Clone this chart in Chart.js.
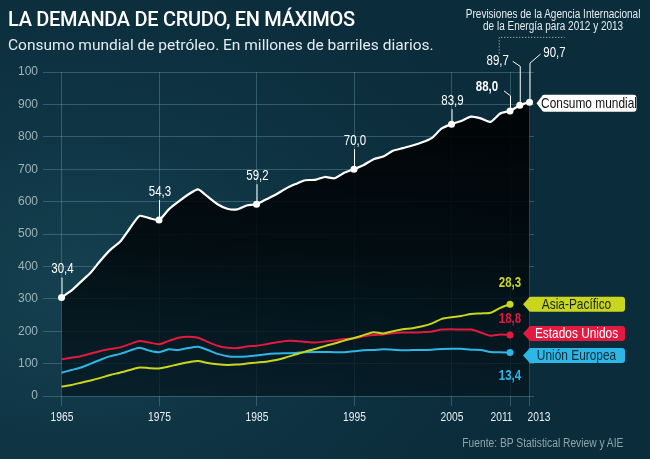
<!DOCTYPE html>
<html>
<head>
<meta charset="utf-8">
<script src="https://cdn.jsdelivr.net/npm/chart.js@4/dist/chart.umd.min.js"></script>
<style>
  html, body { margin:0; padding:0; }
  body { width:650px; height:459px; overflow:hidden; position:relative;
    background: radial-gradient(ellipse 70% 75% at 12% 62%, #15404f 0%, #0e3343 55%, #0b2c3a 100%); }
  #c { position:absolute; left:0; top:0; }
  .t { position:absolute; white-space:nowrap; }
  .n { display:inline-block; transform:scaleX(0.8); }
  #title { left:8px; top:7px; font-family: Roboto, "Open Sans", sans-serif; font-weight:500; font-size:20px; color:#ffffff; letter-spacing:-0.3px; }
  #sub { left:8px; top:36px; font-family: Roboto, "Open Sans", sans-serif; font-size:15.5px; color:#e4ecef; }
  #prev { left:443px; top:8px; width:220px; text-align:center; font-family:"Liberation Sans", Arial, sans-serif; font-size:12.5px; line-height:12px; color:#e6eef1; }
  #prev .n { transform-origin:50% 50%; }
  #src { left:423px; top:436px; width:200px; text-align:right; font-family:"Liberation Sans", Arial, sans-serif; font-size:12.5px; color:#8ea5ad; }
  #src .n { transform-origin:100% 50%; transform:scaleX(0.82); }
</style>
</head>
<body>
<canvas id="c" width="650" height="459"></canvas>
<div class="t" id="title">LA DEMANDA DE CRUDO, EN MÁXIMOS</div>
<div class="t" id="sub">Consumo mundial de petróleo. En millones de barriles diarios.</div>
<div class="t" id="prev"><span class="n">Previsiones de la Agencia Internacional<br>de la Energía para 2012 y 2013</span></div>
<div class="t" id="src"><span class="n">Fuente: BP Statistical Review y AIE</span></div>
<script>
// ---- DATA ----
const years = [1965,1966,1967,1968,1969,1970,1971,1972,1973,1974,1975,1976,1977,1978,1979,
  1980,1981,1982,1983,1984,1985,1986,1987,1988,1989,1990,1991,1992,1993,1994,1995,1996,1997,
  1998,1999,2000,2001,2002,2003,2004,2005,2006,2007,2008,2009,2010,2011,2012,2013];
const worldConsumption = [30.4,32.5,35.3,38.1,41.8,45.1,47.6,51.7,55.6,54.9,54.3,57.6,60.0,62.2,63.8,
  61.5,59.2,57.8,57.6,58.8,59.2,60.7,62.2,64.0,65.4,66.6,66.7,67.6,67.2,68.9,70.0,71.3,73.1,
  73.9,75.7,76.5,77.3,78.3,79.7,82.6,83.9,84.9,86.2,85.7,84.6,87.2,88.0,89.7,90.7];
const asiaPacific = [2.9,3.4,4.1,4.8,5.6,6.5,7.2,8.0,8.8,8.6,8.5,9.1,9.8,10.4,10.8,
  10.2,9.8,9.6,9.7,10.0,10.3,10.6,11.1,11.9,12.8,13.7,14.5,15.4,16.2,17.1,17.9,18.8,19.7,
  19.3,20.0,20.6,20.9,21.5,22.4,23.8,24.3,24.7,25.3,25.5,25.7,27.2,28.3];
const unitedStates = [11.3,11.8,12.3,13.1,13.9,14.5,15.0,16.0,17.0,16.5,16.0,17.0,18.0,18.3,18.0,
  16.7,15.5,14.9,14.8,15.3,15.5,16.0,16.5,17.0,17.0,16.7,16.5,16.8,17.1,17.6,17.8,18.4,18.8,
  19.0,19.4,19.6,19.6,19.7,19.9,20.5,20.6,20.5,20.5,19.6,18.6,19.0,18.8];
const europeanUnion = [7.2,8.0,8.8,10.0,11.2,12.3,13.0,14.0,14.9,14.0,13.5,14.4,14.2,14.8,15.2,
  14.2,13.0,12.3,12.1,12.2,12.5,12.9,13.1,13.2,13.3,13.5,13.6,13.6,13.5,13.5,13.8,14.1,14.2,
  14.4,14.3,14.1,14.2,14.2,14.3,14.5,14.6,14.6,14.3,14.2,13.6,13.5,13.4];
const xTickYears = [1965,1975,1985,1995,2005,2011,2013];
const yTickLabels = ['0','100','200','300','400','500','600','700','800','900','100'];
const worldMarkedYears = [1965,1975,1985,1995,2005,2011,2012,2013];
const seriesNames = ['Consumo mundial','Asia-Pacífico','Estados Unidos','Unión Europea'];

// ---- STYLE ----
const COL = { world:'#ffffff', asia:'#c9d61d', us:'#e3193f', eu:'#2cb7e6', grid:'rgba(110,160,176,0.38)' };
const SANS = '"Liberation Sans", Arial, sans-serif';
const SX = 0.82;
const xLabelShift = { 2011: -9, 2013: 9 };
const fmt = v => v.toFixed(1).replace('.', ',');

function toXY(vals){ return vals.map((v,i)=>({x:years[i], y:v})); }

function ntext(c, text, x, y, font, color){
  c.save();
  c.font = font; c.fillStyle = color; c.textAlign = 'center'; c.textBaseline = 'middle';
  c.translate(x, y); c.scale(SX, 1); c.fillText(text, 0, 0);
  c.restore();
}

const annot = {
  id:'annot',
  afterDatasetsDraw(chart){
    const c = chart.ctx, xs = chart.scales.x, ys = chart.scales.y;
    const P = (yr, v) => [xs.getPixelForValue(yr), ys.getPixelForValue(v)];
    c.save();
    // x tick labels (condensed)
    xTickYears.forEach(yr => {
      ntext(c, String(yr), xs.getPixelForValue(yr) + 0.5 + (xLabelShift[yr] || 0), chart.chartArea.bottom + 21.5, '12.5px ' + SANS, '#e8eff1');
    });
    // World value labels with leaders
    c.strokeStyle = '#ffffff'; c.lineWidth = 1;
    worldMarkedYears.forEach(yr => {
      const i = years.indexOf(yr); const v = worldConsumption[i];
      const [px, py] = P(yr, v);
      c.beginPath();
      if (yr <= 2005) {
        const off = yr === 2005 ? 23 : 28;
        c.moveTo(px+0.5, py - off + 8); c.lineTo(px+0.5, py - 3); c.stroke();
        ntext(c, fmt(v), px + 1, py - off, '14px ' + SANS, '#ffffff');
      } else if (yr === 2011) {
        c.moveTo(px-6, py-20); c.lineTo(px+0.5, py-15); c.lineTo(px+0.5, py-3); c.stroke();
        ntext(c, fmt(v), px - 23, py - 24, 'bold 14px ' + SANS, '#ffffff');
      } else if (yr === 2012) {
        c.moveTo(px-7, py-44); c.lineTo(px+0.5, py-39); c.lineTo(px+0.5, py-3); c.stroke();
        ntext(c, fmt(v), px - 22, py - 44, '14px ' + SANS, '#ffffff');
        // dotted bracket to forecast note
        c.save(); c.setLineDash([1,2]); c.strokeStyle = 'rgba(255,255,255,0.8)';
        c.beginPath(); c.moveTo(px-20.5, py-52); c.lineTo(px-20.5, py-68); c.lineTo(px+45, py-68); c.stroke();
        c.restore();
      } else {
        c.moveTo(px+11, py-48); c.lineTo(px+0.5, py-39); c.lineTo(px+0.5, py-3); c.stroke();
        ntext(c, fmt(v), px + 25, py - 49, '14px ' + SANS, '#ffffff');
      }
    });
    // Boxes
    function box(tipX, cy, w, h, fill, text, tcol){
      c.fillStyle = fill;
      const l = tipX + 5, r = l + w, t = cy - h/2, b = cy + h/2, rr = 3;
      c.beginPath();
      c.moveTo(tipX, cy); c.lineTo(l, t+2);
      c.lineTo(l, t+rr); c.quadraticCurveTo(l, t, l+rr, t);
      c.lineTo(r-rr, t); c.quadraticCurveTo(r, t, r, t+rr);
      c.lineTo(r, b-rr); c.quadraticCurveTo(r, b, r-rr, b);
      c.lineTo(l+rr, b); c.quadraticCurveTo(l, b, l, b-rr);
      c.lineTo(l, b-2); c.closePath(); c.fill();
      ntext(c, text, (l + r)/2, cy + 0.5, '14.5px ' + SANS, tcol);
    }
    const last = worldConsumption.length - 1;
    const [wx, wy] = P(years[last], worldConsumption[last]);
    box(wx + 7, wy + 1, 95, 17, '#ffffff', seriesNames[0], '#111111');
    const ri = asiaPacific.length - 1, ry = years[ri];
    const regions = [
      [asiaPacific, COL.asia, seriesNames[1], '#15252b', -21],
      [unitedStates, COL.us, seriesNames[2], '#ffffff', -16],
      [europeanUnion, COL.eu, seriesNames[3], '#0d2a38', 24]
    ];
    regions.forEach(([arr, col, name, tcol, loff], k) => {
      const [px, py] = P(ry, arr[ri]);
      const cy = k === 1 ? py - 1.5 : (k === 2 ? py + 3 : py);
      box(px + 13, cy, 97, 15, col, name, tcol);
      ntext(c, fmt(arr[ri]), px, py + loff, 'bold 14px ' + SANS, col);
    });
    c.restore();
  }
};

const ctx = document.getElementById('c').getContext('2d');
new Chart(ctx, {
  type: 'line',
  data: {
    datasets: [
      { label: seriesNames[1], data: toXY(asiaPacific), borderColor: COL.asia, borderWidth: 2, tension: 0.25,
        pointRadius: c => c.dataIndex === asiaPacific.length-1 ? 3.5 : 0, pointBackgroundColor: COL.asia, pointBorderWidth:0, order: 1 },
      { label: seriesNames[2], data: toXY(unitedStates), borderColor: COL.us, borderWidth: 2, tension: 0.25,
        pointRadius: c => c.dataIndex === unitedStates.length-1 ? 3.5 : 0, pointBackgroundColor: COL.us, pointBorderWidth:0, order: 2 },
      { label: seriesNames[3], data: toXY(europeanUnion), borderColor: COL.eu, borderWidth: 2, tension: 0.25,
        pointRadius: c => c.dataIndex === europeanUnion.length-1 ? 3.5 : 0, pointBackgroundColor: COL.eu, pointBorderWidth:0, order: 3 },
      { label: seriesNames[0], data: toXY(worldConsumption), borderColor: COL.world, borderWidth: 2.2, tension: 0.2,
        fill: 'origin',
        backgroundColor: (context) => {
          const ca = context.chart.chartArea;
          if (!ca) return 'rgba(0,0,0,0.9)';
          const g = context.chart.ctx.createLinearGradient(0, ca.top, 0, ca.bottom);
          g.addColorStop(0, 'rgba(0,0,0,0.95)');
          g.addColorStop(0.55, 'rgba(1,8,12,0.88)');
          g.addColorStop(1, 'rgba(4,22,30,0.7)');
          return g;
        },
        pointRadius: c => worldMarkedYears.includes(years[c.dataIndex]) ? 3.5 : 0,
        pointBackgroundColor: '#ffffff', pointBorderWidth: 0, order: 10 }
    ]
  },
  options: {
    responsive: false, animation: false,
    layout: { padding: { top: 72, right: 116, left: 0, bottom: 0 } },
    plugins: { legend: { display: false }, tooltip: { enabled: false } },
    scales: {
      x: { type: 'linear', min: 1963.1, max: 2013.46,
        afterBuildTicks: s => { s.ticks = xTickYears.map(v => ({ value: v })); },
        afterFit: s => { s.height = 63; },
        ticks: { display: false },
        grid: { color: COL.grid, tickLength: 10, tickColor: COL.grid },
        border: { display: false } },
      y: { min: 0, max: 100,
        afterBuildTicks: s => { s.ticks = yTickLabels.map((_, i) => ({ value: i * 10 })); },
        afterFit: s => { s.width = 43; },
        ticks: { callback: (v, i) => yTickLabels[i], color: '#9db3bb', font: { family: SANS, size: 12 }, padding: 5 },
        grid: { color: COL.grid, drawTicks: false },
        border: { display: false } }
    }
  },
  plugins: [annot]
});
</script>
</body>
</html>
